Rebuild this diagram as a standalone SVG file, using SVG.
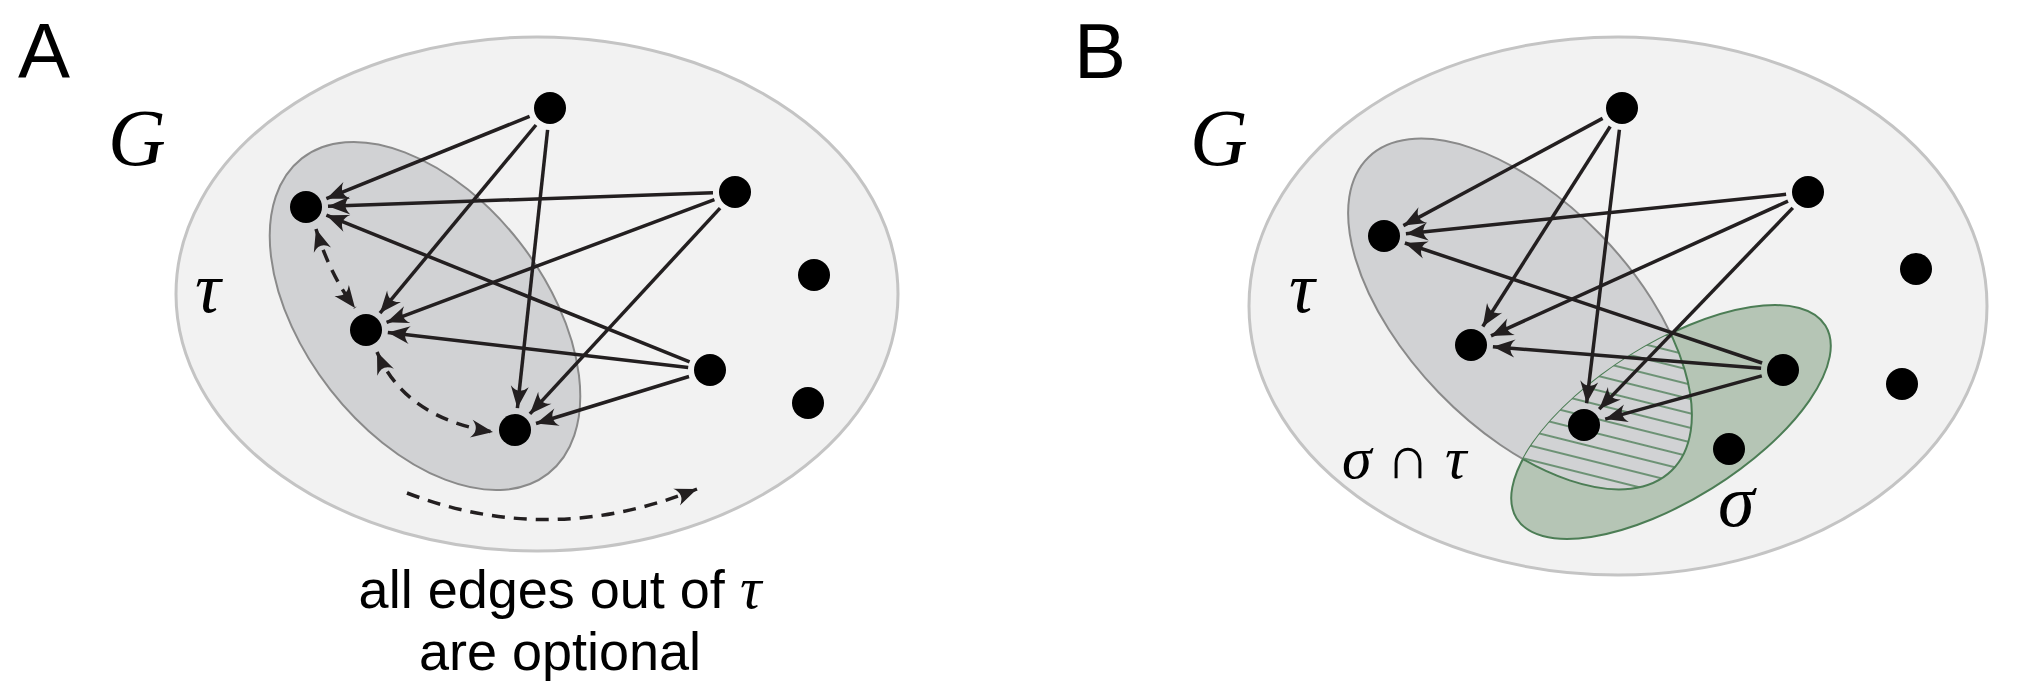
<svg xmlns="http://www.w3.org/2000/svg" width="2033" height="687" viewBox="0 0 2033 687">
<style>
.outer{fill:#f2f2f2;stroke:#c4c4c4;stroke-width:3}
.tau{fill:#d1d2d4;stroke:#8a8a8a;stroke-width:2}
.sig{fill:#b5c5b5;stroke:#4c7d55;stroke-width:2}
.node{fill:#000}
.e{stroke:#231f20;stroke-width:3.5;fill:none;marker-end:url(#ah)}
.d{stroke:#231f20;stroke-width:3.5;fill:none;stroke-dasharray:13 9}
.panel{font-family:"Liberation Sans",Arial,sans-serif;font-size:78px;fill:#000}
.math{font-family:"Liberation Serif","Times New Roman",serif;font-style:italic;fill:#000}
.cap{font-family:"Liberation Sans",Arial,sans-serif;font-size:54px;fill:#000}
</style>
<defs>
<marker id="ah" viewBox="-23 -10 25 20" refX="0" refY="0" markerWidth="25" markerHeight="20" markerUnits="userSpaceOnUse" orient="auto-start-reverse">
<path d="M0,0 L-22,-9 Q-13,0 -22,9 Z" fill="#231f20"/>
</marker>
<pattern id="hatch" patternUnits="userSpaceOnUse" width="40" height="14" patternTransform="rotate(-32)">
<rect width="40" height="14" fill="#d1d2d4"/>
<line x1="0" y1="7" x2="40" y2="7" stroke="#4c7d55" stroke-width="1.5"/>
</pattern>
<clipPath id="sigClip"><ellipse cx="1671" cy="422" rx="182" ry="78" transform="rotate(-32 1671 422)"/></clipPath>
</defs>

<g id="panelA">
<text class="panel" x="18" y="78">A</text>
<g id="A-G"><ellipse class="outer" cx="537" cy="294" rx="361" ry="257"/></g>
<g id="A-tau"><ellipse class="tau" cx="425" cy="316" rx="200" ry="120" transform="rotate(52 425 316)"/></g>
<text class="math" x="108" y="165" font-size="80">G</text>
<text class="math" x="195" y="312" font-size="72">τ</text>
<g id="A-connectors">
<line class="e" x1="529.6" y1="116.3" x2="326.4" y2="198.7"/>
<line class="e" x1="536" y1="125" x2="380" y2="313.1"/>
<line class="e" x1="547.6" y1="129.9" x2="517.4" y2="408.1"/>
<line class="e" x1="713" y1="192.8" x2="328" y2="206.2"/>
<line class="e" x1="714.4" y1="199.7" x2="386.6" y2="322.3"/>
<line class="e" x1="720.1" y1="208.1" x2="529.9" y2="413.9"/>
<line class="e" x1="689.6" y1="361.8" x2="326.4" y2="215.2"/>
<line class="e" x1="688.2" y1="367.4" x2="387.8" y2="332.6"/>
<line class="e" x1="689" y1="376.5" x2="536" y2="423.5"/>
<path class="d" d="M316,229 Q330,275 355,308" marker-start="url(#ah)" marker-end="url(#ah)"/>
<path class="d" d="M377,352 Q405,418 493,432" marker-start="url(#ah)" marker-end="url(#ah)"/>
<path class="d" d="M407,493 Q550,548 697,489" marker-end="url(#ah)"/>
</g>
<g id="A-nodes">
<circle class="node" cx="550" cy="108" r="16"/>
<circle class="node" cx="735" cy="192" r="16"/>
<circle class="node" cx="306" cy="207" r="16"/>
<circle class="node" cx="814" cy="275" r="16"/>
<circle class="node" cx="366" cy="330" r="16"/>
<circle class="node" cx="710" cy="370" r="16"/>
<circle class="node" cx="808" cy="403" r="16"/>
<circle class="node" cx="515" cy="430" r="16"/>
</g>
<text class="cap" x="560" y="608" text-anchor="middle">all edges out of <tspan class="math" font-size="60">τ</tspan></text>
<text class="cap" x="560" y="670" text-anchor="middle">are optional</text>
</g>

<g id="panelB">
<text class="panel" x="1074" y="78">B</text>
<g id="B-G"><ellipse class="outer" cx="1618" cy="306" rx="369" ry="269"/></g>
<g id="B-tau"><ellipse class="tau" cx="1520" cy="314" rx="218" ry="113" transform="rotate(46 1520 314)"/></g>
<g id="B-sigma"><ellipse class="sig" cx="1671" cy="422" rx="182" ry="78" transform="rotate(-32 1671 422)"/></g>
<g id="B-intersection" clip-path="url(#sigClip)"><ellipse cx="1520" cy="314" rx="218" ry="113" transform="rotate(46 1520 314)" fill="url(#hatch)" stroke="#4c7d55" stroke-width="2"/></g>
<text class="math" x="1190" y="165" font-size="80">G</text>
<text class="math" x="1289" y="312" font-size="72">τ</text>
<text class="math" x="1342" y="478" font-size="60">σ <tspan font-style="normal">∩</tspan> τ</text>
<text class="math" x="1718" y="526" font-size="74">σ</text>
<g id="B-connectors">
<line class="e" x1="1602.6" y1="118.4" x2="1403.4" y2="225.6"/>
<line class="e" x1="1610.2" y1="126.5" x2="1482.8" y2="326.5"/>
<line class="e" x1="1619.4" y1="129.8" x2="1586.6" y2="403.2"/>
<line class="e" x1="1786.1" y1="194.3" x2="1405.9" y2="233.7"/>
<line class="e" x1="1788" y1="201.1" x2="1491" y2="335.9"/>
<line class="e" x1="1792.8" y1="207.9" x2="1599.2" y2="409.1"/>
<line class="e" x1="1762.1" y1="363" x2="1404.9" y2="243"/>
<line class="e" x1="1761.1" y1="368.2" x2="1492.9" y2="346.8"/>
<line class="e" x1="1761.8" y1="375.9" x2="1605.2" y2="419.1"/>
</g>
<g id="B-nodes">
<circle class="node" cx="1622" cy="108" r="16"/>
<circle class="node" cx="1808" cy="192" r="16"/>
<circle class="node" cx="1384" cy="236" r="16"/>
<circle class="node" cx="1916" cy="269" r="16"/>
<circle class="node" cx="1471" cy="345" r="16"/>
<circle class="node" cx="1783" cy="370" r="16"/>
<circle class="node" cx="1902" cy="384" r="16"/>
<circle class="node" cx="1584" cy="425" r="16"/>
<circle class="node" cx="1729" cy="449" r="16"/>
</g>
</g>
</svg>
